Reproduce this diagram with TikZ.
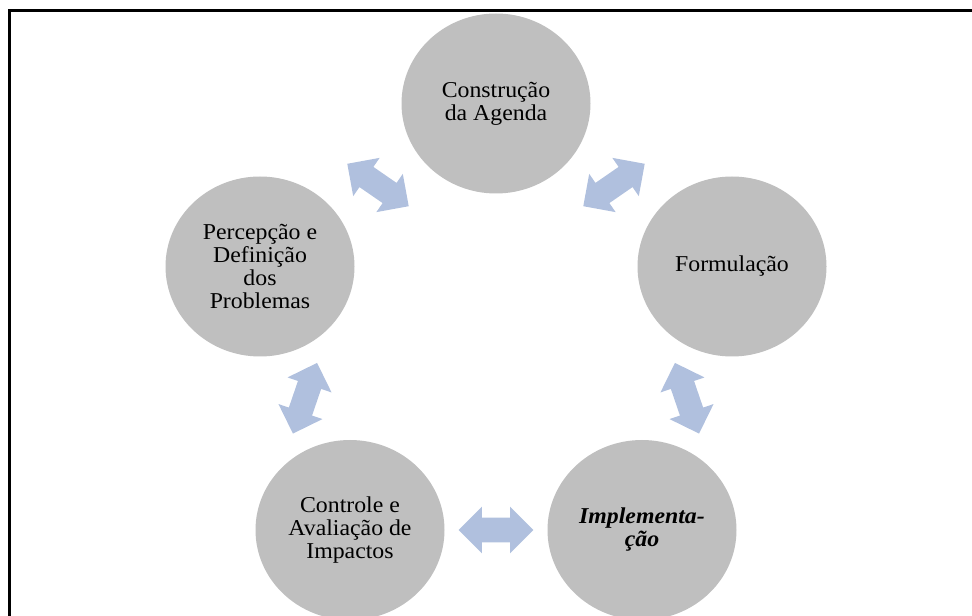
\documentclass[tikz,border=0pt]{standalone}
\usepackage{fontspec}
\setmainfont{Liberation Serif}
\usetikzlibrary{shapes.arrows}

\definecolor{stagegrey}{RGB}{191,191,191}
\definecolor{linkblue}{RGB}{176,192,222}

\begin{document}
\begin{tikzpicture}[x=0.75pt,y=0.75pt,yscale=-1,xscale=1,
  stage/.style={circle, fill=stagegrey, minimum size=135pt, xscale=1.05, inner sep=0pt, align=center, font=\fontsize{17}{17.25}\selectfont},
  twoway/.style={double arrow, fill=linkblue, minimum height=56pt, minimum width=34.5pt, double arrow head extend=8.25pt, double arrow tip angle=90, inner xsep=0pt, inner ysep=9pt, sloped}]
\useasboundingbox (0,0) rectangle (972,616);
\clip (0,0) rectangle (972,616);

%Shape: Rectangle (frame)
\draw [line width=1.9pt] (9.5,10.7) rectangle (990,640);

%Shape: Circle
\node [stage] (agenda) at (496,103.5) {Construção\\da Agenda};
%Shape: Circle
\node [stage] (formul) at (732,266.5) {Formulação};
%Shape: Circle
\node [stage, font=\fontsize{17}{17.25}\selectfont\bfseries\itshape] (implem) at (642,530) {Implementa-\\ção};
%Shape: Circle
\node [stage] (controle) at (350,530) {Controle e\\Avaliação de\\Impactos};
%Shape: Circle
\node [stage] (percep) at (260,266.5) {Percepção e\\Definição\\dos\\Problemas};

%Double Arrows
\path (percep.center) -- node [twoway] (ar1) {} (agenda.center);
\path (agenda.center) -- node [twoway] (ar2) {} (formul.center);
\path (formul.center) -- node [twoway] (ar3) {} (implem.center);
\path (implem.center) -- node [twoway] (ar4) {} (controle.center);
\path (controle.center) -- node [twoway] (ar5) {} (percep.center);

\end{tikzpicture}
\end{document}
